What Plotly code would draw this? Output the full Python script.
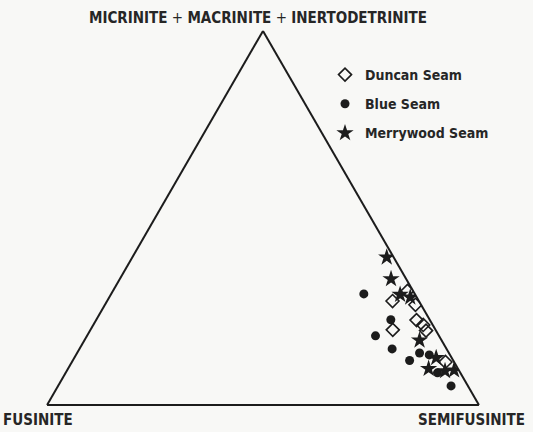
import plotly.graph_objects as go

# Ternary data (percent): a = Micrinite+Macrinite+Inertodetrinite, b = Fusinite, c = Semifusinite
duncan_a = [30.5, 27.8, 26.8, 22.7, 21.4, 19.9, 20.1, 11.5]
duncan_b = [1.3, 6.1, 1.3, 3.1, 2.2, 2.3, 9.9, 2.0]
duncan_c = [68.2, 66.1, 71.9, 74.2, 76.4, 77.8, 70.0, 86.5]

blue_a = [29.7, 22.8, 18.5, 15.0, 13.9, 13.4, 11.9, 8.6, 5.1]
blue_b = [11.8, 9.0, 14.7, 12.6, 6.8, 4.8, 10.1, 5.3, 3.9]
blue_c = [58.5, 68.2, 66.8, 72.4, 79.3, 81.8, 78.0, 86.1, 91.0]

merry_a = [39.5, 33.7, 29.5, 28.8, 17.3, 12.6, 9.7, 9.1, 9.3]
merry_b = [1.6, 3.5, 3.5, 1.5, 5.1, 3.6, 6.8, 3.3, 1.1]
merry_c = [58.9, 62.8, 67.0, 69.7, 77.6, 83.8, 83.5, 87.6, 89.6]

series_names = ["Duncan Seam", "Blue Seam", "Merrywood Seam"]
vertex_labels = ["MICRINITE", "MACRINITE", "INERTODETRINITE", "FUSINITE", "SEMIFUSINITE"]

INK = "#1c1c1c"
TXT = "#262626"
BG = "#f8f8f6"
FONT = "DejaVu Sans Condensed, Liberation Sans Narrow, Roboto, sans-serif"

fig = go.Figure()
fig.add_trace(go.Scatterternary(
    a=duncan_a, b=duncan_b, c=duncan_c, mode="markers", name="<b>" + series_names[0] + "</b>",
    legendgroup="g1",
    marker=dict(symbol="diamond-open", size=10, color=INK, line=dict(width=1.6, color=INK))))
fig.add_trace(go.Scatterternary(
    a=blue_a, b=blue_b, c=blue_c, mode="markers", name="<b>" + series_names[1] + "</b>",
    legendgroup="g2",
    marker=dict(symbol="circle", size=9, color=INK)))
fig.add_trace(go.Scatterternary(
    a=merry_a, b=merry_b, c=merry_c, mode="markers", name="<b>" + series_names[2] + "</b>",
    legendgroup="g3",
    marker=dict(symbol="star", size=13, color=INK, line=dict(width=0))))

axis_common = dict(showgrid=False, showticklabels=False, ticks="", linecolor=INK,
                   linewidth=2, title=dict(text=""), min=0)

plus = "<span style='font-weight:normal'> + </span>"
top_title = ("<b>" + vertex_labels[0] + "</b>" + plus + "<b>" + vertex_labels[1] + "</b>"
             + plus + "<b>" + vertex_labels[2] + "</b>")

fig.update_layout(
    width=533, height=432,
    paper_bgcolor=BG, plot_bgcolor=BG,
    margin=dict(l=0, r=0, t=0, b=0),
    ternary=dict(
        sum=100,
        bgcolor=BG,
        domain=dict(x=[47/533, 479/533], y=[27/432, 401/432]),
        aaxis=axis_common, baxis=axis_common, caxis=axis_common,
    ),
    showlegend=True,
    legend=dict(
        x=325/533, y=1 - 59/432, xanchor="left", yanchor="top",
        bgcolor="rgba(0,0,0,0)",
        font=dict(family=FONT, size=14, color=TXT),
        traceorder="grouped", tracegroupgap=8,
        itemwidth=30,
    ),
    annotations=[
        dict(text=top_title, x=258/533, y=1 - 18/432, xanchor="center", yanchor="middle",
             xref="paper", yref="paper", showarrow=False,
             font=dict(family=FONT, size=15, color=TXT)),
        dict(text="<b>" + vertex_labels[3] + "</b>", x=38/533, y=1 - 420/432,
             xanchor="center", yanchor="middle",
             xref="paper", yref="paper", showarrow=False,
             font=dict(family=FONT, size=15, color=TXT)),
        dict(text="<b>" + vertex_labels[4] + "</b>", x=471/533, y=1 - 420/432,
             xanchor="center", yanchor="middle",
             xref="paper", yref="paper", showarrow=False,
             font=dict(family=FONT, size=15, color=TXT)),
    ],
)

fig.write_html("out.html", config={"displayModeBar": False},
               post_script="document.body.style.margin='0';")
